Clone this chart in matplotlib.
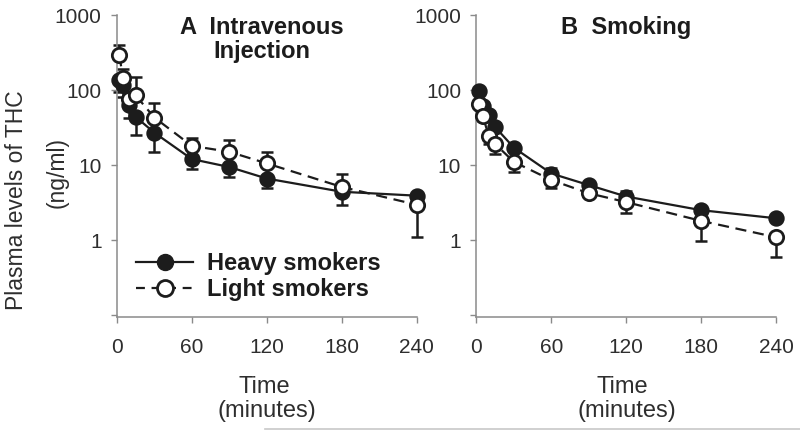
import matplotlib
matplotlib.use("Agg")
import matplotlib.pyplot as plt
from matplotlib.lines import Line2D
import numpy as np

plt.rcParams['font.family'] = ['Liberation Sans', 'DejaVu Sans']

# ---- data ----
time_min = [2, 5, 10, 15, 30, 60, 90, 120, 180, 240]

iv_heavy = [135, 115, 63, 44, 27, 12, 9.4, 6.6, 4.4, 3.9]
iv_heavy_err_low = [40, 35, 20, 19, 12, 3.2, 2.4, 1.6, 1.5, 2.8]
iv_light = [290, 145, 75, 85, 43, 18, 15, 10.5, 5.1, 2.95]
iv_light_err_up = [108, 44, 20, 65, 25, 4.7, 6.5, 4.3, 2.5, 0.6]

sm_heavy = [98, 62, 46, 32, 17, 7.7, 5.4, 3.8, 2.5, 1.95]
sm_heavy_err_up = [10, 8, 6, 4, 2, 1.3, 0.6, 0.7, 0.2, 0.2]
sm_light = [66, 45, 24, 19, 11, 6.3, 4.2, 3.2, 1.8, 1.09]
sm_light_err_low = [8, 6, 5, 5, 2.9, 1.4, 0.5, 0.9, 0.82, 0.49]

y_ticks = [0.1, 1, 10, 100, 1000]
y_ticklabels = ['', '1', '10', '100', '1000']
x_ticks = [0, 60, 120, 180, 240]

series_labels = ['Heavy smokers', 'Light smokers']
panel_titles = [('A  Intravenous', 'Injection'), ('B  Smoking', None)]

# ---- style ----
INK = '#1c1c1c'
AXC = '#8a8a8a'
TXT = '#2e2e2e'
MS = 10.3
LW = 1.6
DASH = (0, (5, 3))

fig = plt.figure(figsize=(8, 4.3), dpi=100)
ax1 = fig.add_axes([0.146, 0.2635, 0.375, 0.7016])
ax2 = fig.add_axes([0.5956, 0.2635, 0.3744, 0.7016])


def panel(ax, heavy, heavy_err, heavy_dir, light, light_err, light_dir):
    zeros = [0] * len(time_min)
    h_yerr = [heavy_err, zeros] if heavy_dir == 'low' else [zeros, heavy_err]
    l_yerr = [light_err, zeros] if light_dir == 'low' else [zeros, light_err]
    ax.errorbar(time_min, heavy, yerr=h_yerr, fmt='none', ecolor=INK,
                elinewidth=1.8, capsize=4, capthick=1.8, zorder=2, clip_on=False)
    ax.errorbar(time_min, light, yerr=l_yerr, fmt='none', ecolor=INK,
                elinewidth=1.8, capsize=4, capthick=1.8, zorder=2, clip_on=False)
    ax.plot(time_min, heavy, color=INK, lw=LW, marker='o', ms=MS,
            mfc=INK, mec=INK, mew=1.5, zorder=3, clip_on=False)
    ax.plot(time_min, light, color=INK, lw=LW, ls=DASH, marker='o', ms=MS,
            mfc='white', mec=INK, mew=2.0, zorder=4, clip_on=False)
    ax.set_yscale('log')
    ax.set_ylim(0.095, 1000)
    ax.set_xlim(0, 240)
    ax.set_yticks(y_ticks)
    ax.set_yticklabels(y_ticklabels)
    ax.yaxis.set_minor_locator(matplotlib.ticker.NullLocator())
    ax.set_xticks(x_ticks)
    ax.set_xticklabels([str(t) for t in x_ticks])
    for s in ['top', 'right']:
        ax.spines[s].set_visible(False)
    for s in ['left', 'bottom']:
        ax.spines[s].set_color(AXC)
        ax.spines[s].set_linewidth(1.1)
    ax.tick_params(axis='both', direction='out', length=4, width=1.0,
                   color=AXC, labelcolor=TXT, labelsize=15)
    ax.tick_params(axis='y', pad=7)
    ax.tick_params(axis='x', pad=11)


panel(ax1, iv_heavy, iv_heavy_err_low, 'low', iv_light, iv_light_err_up, 'up')
panel(ax2, sm_heavy, sm_heavy_err_up, 'up', sm_light, sm_light_err_low, 'low')

# titles
ax1.text(0.483, 0.937, panel_titles[0][0], transform=ax1.transAxes, ha='center',
         va='baseline', fontsize=17, fontweight='bold', color=INK)
ax1.text(0.483, 0.857, panel_titles[0][1], transform=ax1.transAxes, ha='center',
         va='baseline', fontsize=17, fontweight='bold', color=INK)
ax2.text(0.499, 0.937, panel_titles[1][0], transform=ax2.transAxes, ha='center',
         va='baseline', fontsize=17, fontweight='bold', color=INK)

# legend
handles = [
    Line2D([], [], color=INK, lw=LW, marker='o', ms=11.5, mfc=INK, mec=INK),
    Line2D([], [], color=INK, lw=LW, ls=(0, (4, 3)), marker='o', ms=11.5,
           mfc='white', mec=INK, mew=2.0),
]
ax1.legend(handles, series_labels, loc='upper left', bbox_to_anchor=(0.065, 0.213),
           frameon=False, prop={'size': 17, 'weight': 'bold'}, handlelength=2.4,
           handletextpad=0.6, labelspacing=0.12, borderpad=0, borderaxespad=0,
           labelcolor=INK)

# axis labels
for xc1, xc2 in [(0.330, 0.334), (0.778, 0.784)]:
    fig.text(xc1, 0.086, 'Time', ha='center', va='baseline', fontsize=17, color=TXT)
    fig.text(xc2, 0.030, '(minutes)', ha='center', va='baseline', fontsize=17, color=TXT)

fig.text(0.021, 0.535, 'Plasma levels of THC', rotation=90, ha='center',
         va='center', fontsize=16.5, color=TXT)
fig.text(0.071, 0.600, '(ng/ml)', rotation=90, ha='center', va='center',
         fontsize=16.5, color=TXT)

# thin gray frame line at bottom of the image
fig.add_artist(Line2D([265 / 800, 1.0], [1 - 428.5 / 430] * 2, color='#c8c8c8',
                      lw=1.2, transform=fig.transFigure))

fig.savefig('out.png', dpi=100)
